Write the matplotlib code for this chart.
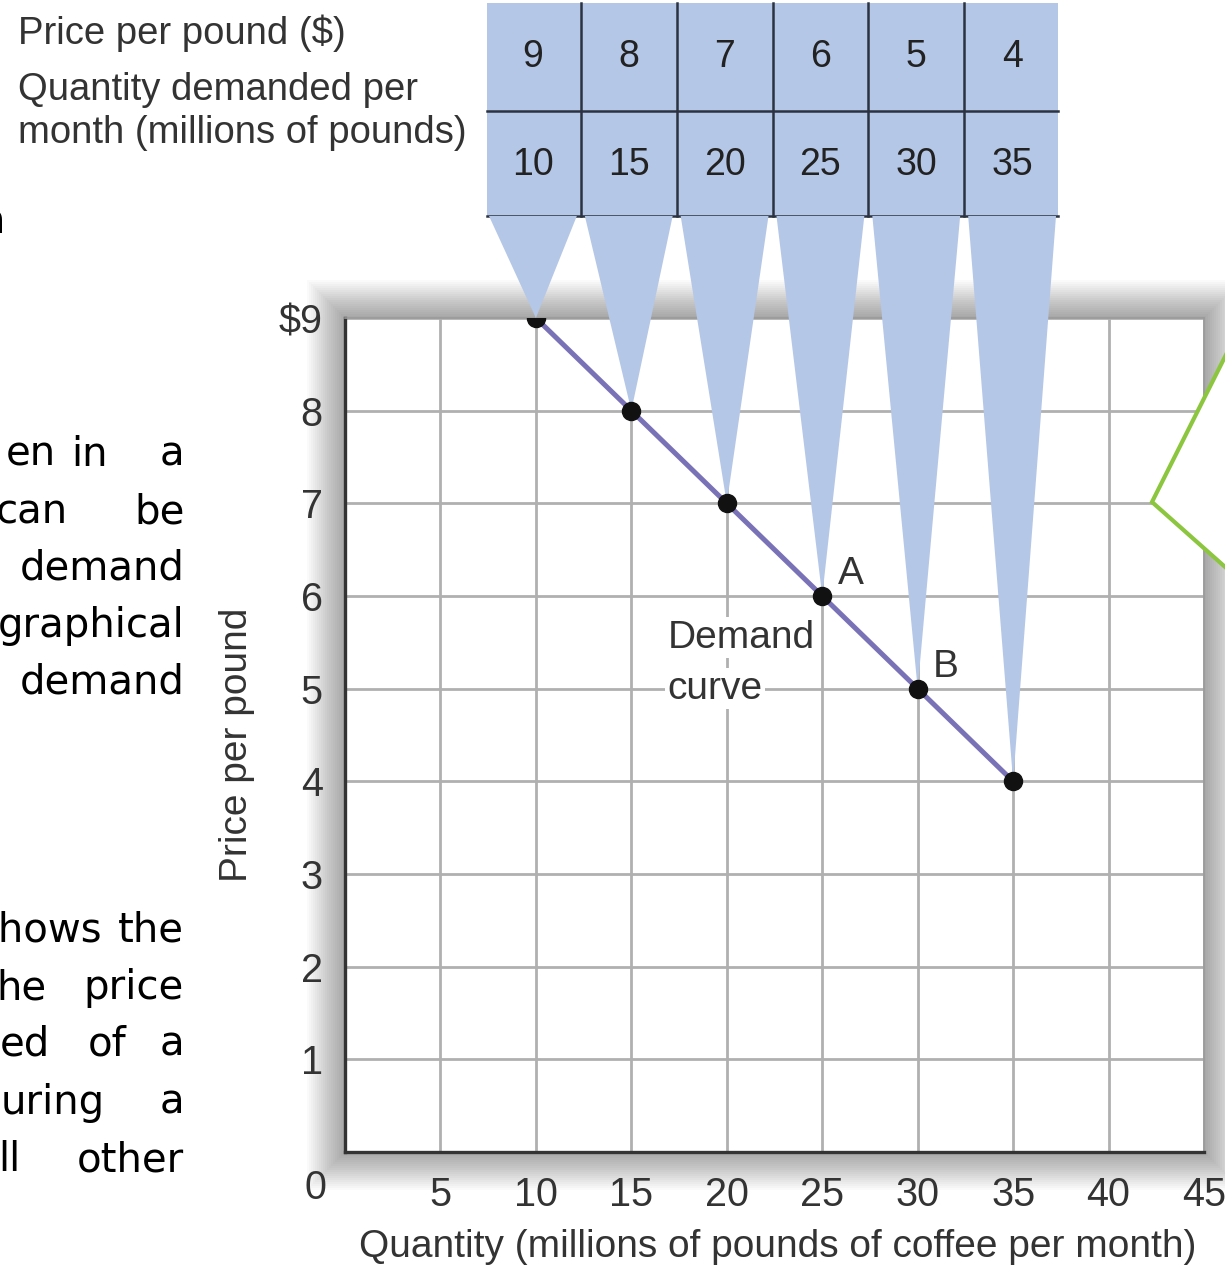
import matplotlib.pyplot as plt
from matplotlib.patches import Polygon, Rectangle

# demand schedule for coffee
prices = [9, 8, 7, 6, 5, 4]
quantities = [10, 15, 20, 25, 30, 35]
point_labels = {25: "A", 30: "B"}
x_ticks = [5, 10, 15, 20, 25, 30, 35, 40, 45]
y_ticks = [1, 2, 3, 4, 5, 6, 7, 8, 9]
y_ticklabels = ["1", "2", "3", "4", "5", "6", "7", "8", "$9"]

# cropped slide text on the left (word, right edge px)
para_lines = [
    (455, [("en", 56), ("in", 108), ("a", 184)]),
    (512, [("can", 68), ("be", 185)]),
    (568, [("demand", 185)]),
    (626, [("graphical", 185)]),
    (683, [("demand", 185)]),
    (930, [("shows", 102), ("the", 184)]),
    (988, [("he", 46), ("price", 184)]),
    (1045, [("ed", 50), ("of", 127), ("a", 184)]),
    (1103, [("uring", 105), ("a", 184)]),
    (1160, [("ll", 20), ("other", 184)]),
]

W, H = 1225, 1268
BLUE = "#b5c7e6"
plt.rcParams["font.family"] = ["Liberation Sans", "DejaVu Sans"]

fig = plt.figure(figsize=(W / 100, H / 100), dpi=100)

# full-figure overlay in pixel coordinates
ov = fig.add_axes([0, 0, 1, 1])
ov.set_xlim(0, W)
ov.set_ylim(H, 0)
ov.axis("off")

# plot panel position (pixels)
L, R, T, B = 345, 1204, 318, 1152
ax = fig.add_axes([L / W, 1 - B / H, (R - L) / W, (B - T) / H])

# soft shadow round the panel
for i in range(20):
    pad = 2 * i
    ov.add_patch(Rectangle((L - pad, T - pad), R - L + 2 * pad, B - T + 2 * pad,
                           color="black", alpha=0.018, lw=0))

# table
tl, tr = 485, 1060
cw = (tr - tl) / len(prices)
ov.add_patch(Rectangle((tl + 2, 3), tr - tl - 4, 213, color=BLUE, lw=0))
for i in range(1, len(prices)):
    ov.plot([tl + i * cw] * 2, [3, 216], color="#2b3340", lw=1.8)
for yy in [111, 216]:
    ov.plot([tl + 2, tr - 2], [yy, yy], color="#2b3340", lw=1.8)
for i, (p, q) in enumerate(zip(prices, quantities)):
    cx = tl + (i + 0.5) * cw
    ov.text(cx, 57, str(p), ha="center", va="center", fontsize=27, color="#222222")
    ov.text(cx, 165, str(q), ha="center", va="center", fontsize=27, color="#222222")

ov.text(18, 33, "Price per pound ($)", ha="left", va="center", fontsize=27.5, color="#333333")
ov.text(18, 90, "Quantity demanded per", ha="left", va="center", fontsize=27.5, color="#333333")
ov.text(18, 133, "month (millions of pounds)", ha="left", va="center", fontsize=27.5, color="#333333")

# slide paragraph fragments
for yy, words in para_lines:
    for w, xr in words:
        ov.text(xr, yy, w, ha="right", va="center", fontsize=29,
                family="DejaVu Sans", color="black")
ov.text(5, 222, "n", ha="right", va="center", fontsize=29, family="DejaVu Sans", color="black")

# data panel
ax.set_xlim(0, 45)
ax.set_ylim(0, 9)
ax.set_facecolor("white")
ax.set_axisbelow(True)
ax.grid(True, color="#b0b0b0", lw=2.0)
ax.set_xticks(x_ticks)
ax.set_yticks(y_ticks)
ax.set_yticklabels(y_ticklabels)
ax.tick_params(length=0, labelsize=28.5, labelcolor="#333333")
ax.tick_params(axis="x", pad=17)
ax.tick_params(axis="y", pad=16)
for s in ["left", "bottom"]:
    ax.spines[s].set_color("#333333")
    ax.spines[s].set_linewidth(2.4)
for s in ["top", "right"]:
    ax.spines[s].set_color("#9a9a9a")
    ax.spines[s].set_linewidth(1.2)
ax.set_xlabel("Quantity (millions of pounds of coffee per month)", fontsize=28,
              color="#333333")
ax.xaxis.set_label_coords(0.504, -0.092)
ax.set_ylabel("Price per pound", fontsize=28, color="#333333")
ax.yaxis.set_label_coords(-0.1045, 0.488)
ov.text(315, 1188, "0", ha="center", va="center", fontsize=28.5, color="#333333")

# funnels from table cells down to the points
to_ov = ov.transData.inverted()
for i, (p, q) in enumerate(zip(prices, quantities)):
    tip = to_ov.transform(ax.transData.transform((q, p)))
    verts = [(tl + i * cw + 4, 216), (tl + (i + 1) * cw - 4, 216), tuple(tip)]
    ax.add_patch(Polygon(verts, closed=True, color=BLUE, lw=0,
                         transform=ov.transData, clip_on=False, zorder=2.6))

ax.plot(quantities, prices, color="#7a72b6", lw=3.6, zorder=3, solid_capstyle="round")
ax.plot(quantities, prices, "o", color="#111111", ms=13, zorder=4)
for q, lab in point_labels.items():
    p = prices[quantities.index(q)]
    ax.annotate(lab, (q, p), xytext=(11, 3), textcoords="offset points",
                fontsize=28, color="#333333", ha="left", va="bottom", zorder=5)

ax.text(16.9, 5.55, "Demand", fontsize=28, color="#333333", ha="left", va="center",
        zorder=4, bbox=dict(fc="white", ec="none", pad=2))
ax.text(16.9, 5.0, "curve", fontsize=28, color="#333333", ha="left", va="center",
        zorder=4, bbox=dict(fc="white", ec="none", pad=2))

# green callout on the right edge
ax.add_patch(Polygon([(1260, 287), (1152, 502), (1260, 598), (1400, 598), (1400, 287)],
                     closed=True, fc="white", ec="#8cc63f", lw=3,
                     transform=ov.transData, clip_on=False, zorder=6))

fig.savefig("out.png", dpi=100, facecolor="white")
